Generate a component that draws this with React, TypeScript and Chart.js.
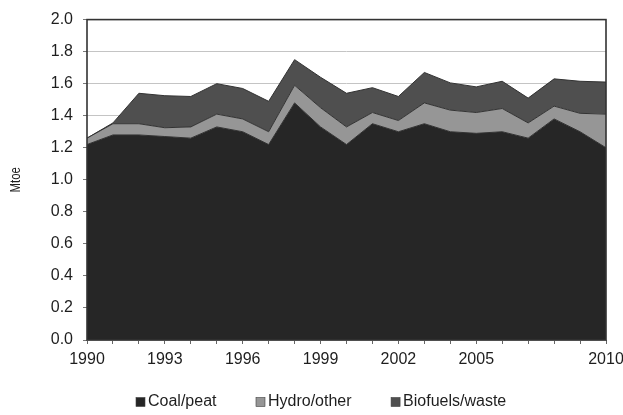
import React, { useEffect, useRef } from "react";
import { Chart, registerables } from "chart.js";

Chart.register(...registerables);

const years = [
  "1990", "1991", "1992", "1993", "1994", "1995", "1996", "1997", "1998", "1999", "2000",
  "2001", "2002", "2003", "2004", "2005", "2006", "2007", "2008", "2009", "2010",
];
const coalPeat = [1.22, 1.28, 1.28, 1.27, 1.26, 1.33, 1.30, 1.22, 1.48, 1.33, 1.22, 1.35, 1.30, 1.35, 1.30, 1.29, 1.30, 1.26, 1.38, 1.30, 1.20];
const hydroOther = [0.04, 0.07, 0.07, 0.055, 0.07, 0.08, 0.08, 0.08, 0.11, 0.12, 0.11, 0.07, 0.07, 0.13, 0.135, 0.13, 0.145, 0.095, 0.08, 0.115, 0.21];
const biofuelsWaste = [0.0, 0.005, 0.19, 0.20, 0.19, 0.19, 0.19, 0.19, 0.16, 0.19, 0.21, 0.155, 0.15, 0.19, 0.17, 0.16, 0.17, 0.155, 0.17, 0.20, 0.20];
const xTickLabels = ["1990", "1993", "1996", "1999", "2002", "2005", "2010"];
const seriesNames = ["Coal/peat", "Hydro/other", "Biofuels/waste"];
const seriesColors = ["#262626", "#969696", "#4f4f4f"];
const yTitle = "Mtoe";

const FONT = "'Liberation Sans', Arial, sans-serif";

const framePlugin = {
  id: "frame",
  afterDatasetsDraw(chart: any) {
    const { ctx, chartArea } = chart;
    const { left, top, right, bottom } = chartArea;
    ctx.save();
    ctx.strokeStyle = "#333333";
    ctx.lineWidth = 1.6;
    ctx.strokeRect(left, top, right - left, bottom - top);
    ctx.restore();
  },
};

const titlePlugin = {
  id: "narrowTitle",
  afterDraw(chart: any) {
    const { ctx, chartArea } = chart;
    ctx.save();
    ctx.translate(15.5, (chartArea.top + chartArea.bottom) / 2);
    ctx.rotate(-Math.PI / 2);
    ctx.scale(0.76, 1);
    ctx.font = `15px ${FONT}`;
    ctx.textAlign = "center";
    ctx.textBaseline = "middle";
    ctx.fillStyle = "#1e1e1e";
    ctx.fillText(yTitle, 0, 0);
    ctx.restore();
  },
};

const legendPlugin = {
  id: "customLegend",
  afterDraw(chart: any) {
    const { ctx } = chart;
    ctx.save();
    ctx.font = `16px ${FONT}`;
    ctx.textBaseline = "middle";
    ctx.textAlign = "left";
    const cy = 402;
    let x = 136;
    const box = 9;
    seriesNames.forEach((name, i) => {
      ctx.fillStyle = seriesColors[i];
      ctx.fillRect(x, cy - box / 2, box, box);
      ctx.strokeStyle = "#404040";
      ctx.lineWidth = 0.6;
      ctx.strokeRect(x, cy - box / 2, box, box);
      ctx.fillStyle = "#1e1e1e";
      ctx.fillText(name, x + 12, cy);
      x += 12 + ctx.measureText(name).width + 39.5;
    });
    ctx.restore();
  },
};

export default function App() {
  const ref = useRef<HTMLCanvasElement | null>(null);

  useEffect(() => {
    document.body.style.margin = "0";
    const canvas = ref.current;
    if (!canvas) return;
    const data = [coalPeat, hydroOther, biofuelsWaste];
    const chart = new Chart(canvas, {
      type: "line",
      data: {
        labels: years,
        datasets: seriesNames.map((name, i) => ({
          label: name,
          data: data[i],
          backgroundColor: seriesColors[i],
          borderColor: "#333333",
          borderWidth: 1,
          pointRadius: 0,
          tension: 0,
          fill: i === 0 ? "origin" : "-1",
        })),
      },
      options: {
        responsive: false,
        animation: false,
        layout: { padding: { top: 13, right: 17, left: 0, bottom: 0 } },
        plugins: {
          legend: { display: false },
          tooltip: { enabled: false },
        },
        scales: {
          x: {
            type: "category",
            offset: false,
            grid: {
              drawOnChartArea: false,
              drawTicks: true,
              tickLength: 4,
              tickColor: "#666666",
            },
            border: { display: false },
            ticks: {
              autoSkip: false,
              maxRotation: 0,
              minRotation: 0,
              padding: 6,
              color: "#1e1e1e",
              font: { family: FONT, size: 16 },
              callback: function (this: any, _v: any, idx: number) {
                const y = years[idx];
                return xTickLabels.includes(y) ? y : "";
              },
            },
            afterFit: (scale: any) => {
              scale.height = 75;
              scale.paddingRight = 0;
            },
          },
          y: {
            stacked: true,
            min: 0,
            max: 2,
            grid: {
              color: "#c4c4c4",
              lineWidth: 1,
              drawTicks: true,
              tickLength: 4,
              tickColor: "#777777",
            },
            border: { display: false },
            ticks: {
              stepSize: 0.2,
              padding: 10,
              color: "#1e1e1e",
              font: { family: FONT, size: 16 },
              callback: (v: any) => Number(v).toFixed(1),
            },
            afterFit: (scale: any) => {
              scale.width = 87;
            },
          },
        },
      },
      plugins: [framePlugin, titlePlugin, legendPlugin],
    } as any);
    return () => chart.destroy();
  }, []);

  return (
    <div style={{ width: 623, height: 415 }}>
      <canvas ref={ref} width={623} height={415} style={{ display: "block" }} />
    </div>
  );
}
